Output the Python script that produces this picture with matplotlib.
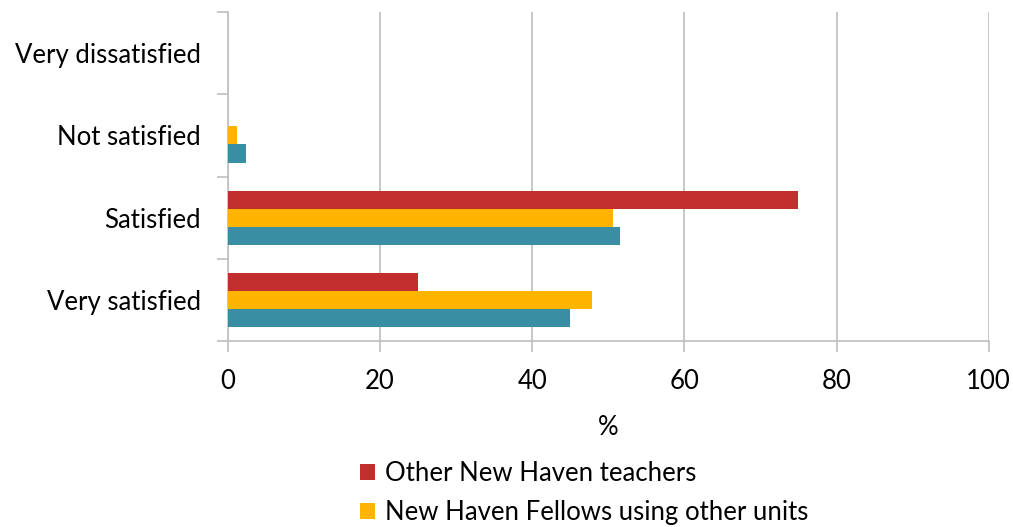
import matplotlib
matplotlib.use("Agg")
import matplotlib.pyplot as plt
import numpy as np

plt.rcParams['font.family'] = ['Lato', 'DejaVu Sans']

categories = ["Very dissatisfied", "Not satisfied", "Satisfied", "Very satisfied"]
series_names = ["Other New Haven teachers", "New Haven Fellows using other units", "New Haven Fellows"]
other_teachers = [0, 0, 75, 25]
fellows_other_units = [0, 1.2, 50.6, 47.9]
fellows = [0, 2.4, 51.5, 45.0]
xticks = [0, 20, 40, 60, 80, 100]
colors = ["#C22E2E", "#FFB400", "#3A8EA3"]

FS = 18.5

fig = plt.figure(figsize=(10.13, 5.27), dpi=100)
ax = fig.add_axes([0.225, 0.353, 0.751, 0.624])

y = np.arange(len(categories))
h = 0.22
series = [other_teachers, fellows_other_units, fellows]
bars = []
for i, (vals, c, name) in enumerate(zip(series, colors, series_names)):
    b = ax.barh(y + (i - 1) * h, vals, height=h, color=c, label=name, zorder=3)
    bars.append(b)

ax.set_xlim(0, 100)
ax.set_ylim(len(categories) - 0.5, -0.5)
ax.set_xticks(xticks)
ax.set_xticklabels([str(v) for v in xticks], fontsize=FS)
ax.set_yticks(y)
ax.set_yticklabels(categories, fontsize=FS)
ax.tick_params(axis='y', length=0, pad=19.5)
ax.set_yticks(np.arange(-0.5, len(categories), 1), minor=True)
ax.tick_params(axis='y', which='minor', length=8, color='#BFBFBF', width=1.2)
ax.tick_params(axis='x', length=8, color='#BFBFBF', width=1.2, pad=12)
ax.grid(axis='x', color='#BFBFBF', linewidth=1.2, zorder=0)
for s in ['top', 'right']:
    ax.spines[s].set_visible(False)
for s in ['left', 'bottom']:
    ax.spines[s].set_color('#BFBFBF')
    ax.spines[s].set_linewidth(1.2)
ax.set_xlabel('%', fontsize=FS, labelpad=15)

leg = fig.legend(handles=bars[:2], labels=series_names[:2], loc='upper left',
                 bbox_to_anchor=(0.345, 0.145), frameon=False, fontsize=FS,
                 handlelength=0.6, handleheight=0.6, handletextpad=0.4,
                 labelspacing=0.55, borderaxespad=0)

fig.savefig("out.png", dpi=100)
